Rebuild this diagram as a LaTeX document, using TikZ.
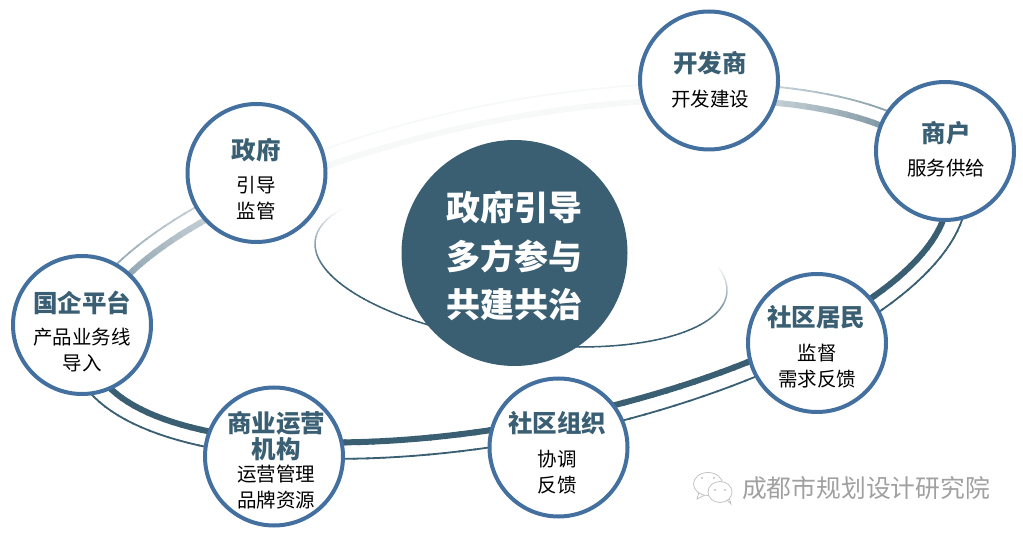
\documentclass[tikz,border=0pt]{standalone}
\usepackage{fontspec}
\setmainfont{Noto Sans CJK SC}
\definecolor{ringblue}{HTML}{3A5F73}
\definecolor{edgeblue}{HTML}{44709F}
\definecolor{markgray}{HTML}{A0A0A0}
\definecolor{iconline}{HTML}{C4C4C4}
\tikzset{
    member/.style={circle, draw=edgeblue, line width=4pt, fill=white, minimum size=138pt, inner sep=0pt},
    core/.style={circle, fill=ringblue, minimum size=226pt, inner sep=0pt},
    coretext/.style={text=white, align=center, font=\fontsize{34}{48.5}\selectfont\bfseries},
    nametext/.style={text=ringblue, align=center, font=\fontsize{24.5}{26.5}\selectfont\bfseries},
    dutytext/.style={text=black, align=center, font=\fontsize{19.5}{25.5}\selectfont},
    bubble/.style={draw=iconline, line width=0.8pt, fill=white},
}
% outer ring, fades out towards the top
\newcommand{\fadering}[3]{
    \foreach \t in {0,2,...,358} {
        \pgfmathsetmacro{\p}{min(100,max(4,max(108-1.6*\t,7+1.27*(\t-113))))}
        \draw[ringblue!\p!white, line width=#3, shift={(519,271)}, rotate=11.2]
            ({#1*cos(\t)},{-#2*sin(\t)})--({#1*cos(\t+2.3)},{-#2*sin(\t+2.3)});
    }
}
\begin{document}
\begin{tikzpicture}[x=1pt, y=-1pt]
    \useasboundingbox (0,0) rectangle (1023,534);
    \fadering{436}{152}{6pt}
    \fadering{455}{169}{1.8pt}
    % inner ring
    \foreach \t in {153,155,...,378} {
        \pgfmathsetmacro{\p}{min(100,max(4,2*min(\t-153,380-\t)))}
        \draw[ringblue!\p!white, line width=1.5pt, shift={(521,267)}, rotate=-7.4]
            ({207.5*cos(\t)},{-76*sin(\t)})--({207.5*cos(\t+2.3)},{-76*sin(\t+2.3)});
    }
    \node[core] (hub) at (514.5,253) {};
    \node[coretext] (hubtext) at (514.5,256) {政府引导\\多方参与\\共建共治};
    \node[member] (gov) at (256.5,173) {};
    \node[nametext] (govname) at (256,150) {政府};
    \node[dutytext] (govduty) at (256,198) {引导\\监管};
    \node[member] (dev) at (709,80.5) {};
    \node[nametext] (devname) at (710,63) {开发商};
    \node[dutytext] (devduty) at (710,99) {开发建设};
    \node[member] (shop) at (945,151) {};
    \node[nametext] (shopname) at (946,133) {商户};
    \node[dutytext] (shopduty) at (946,168) {服务供给};
    \node[member] (resident) at (817,343) {};
    \node[nametext] (residentname) at (816,317) {社区居民};
    \node[dutytext] (residentduty) at (817,366) {监督\\需求反馈};
    \node[member] (org) at (558.5,447.5) {};
    \node[nametext] (orgname) at (557,423) {社区组织};
    \node[dutytext] (orgduty) at (557,472) {协调\\反馈};
    \node[member] (operator) at (274,456.5) {};
    \node[nametext] (operatorname) at (276,436) {商业运营\\机构};
    \node[dutytext] (operatorduty) at (276,487) {运营管理\\品牌资源};
    \node[member] (soe) at (82,325) {};
    \node[nametext] (soename) at (82,303) {国企平台};
    \node[dutytext] (soeduty) at (82,350) {产品业务线\\导入};
    % watermark
    \draw[bubble] (699,492)--(697,499)--(705,495);
    \draw[bubble] (708,484) ellipse (14.5 and 11.5);
    \draw[bubble] (726,499)--(731,504)--(729,497);
    \draw[bubble] (720,492) ellipse (12 and 10.5);
    \fill[iconline] (702,478) circle (1.2) (714,478) circle (1.2) (715,490) circle (1.2) (725,490) circle (1.2);
    \node[text=markgray, font=\fontsize{24.8}{26}\selectfont, inner sep=0pt] (mark) at (866,488) {成都市规划设计研究院};
\end{tikzpicture}
\end{document}
